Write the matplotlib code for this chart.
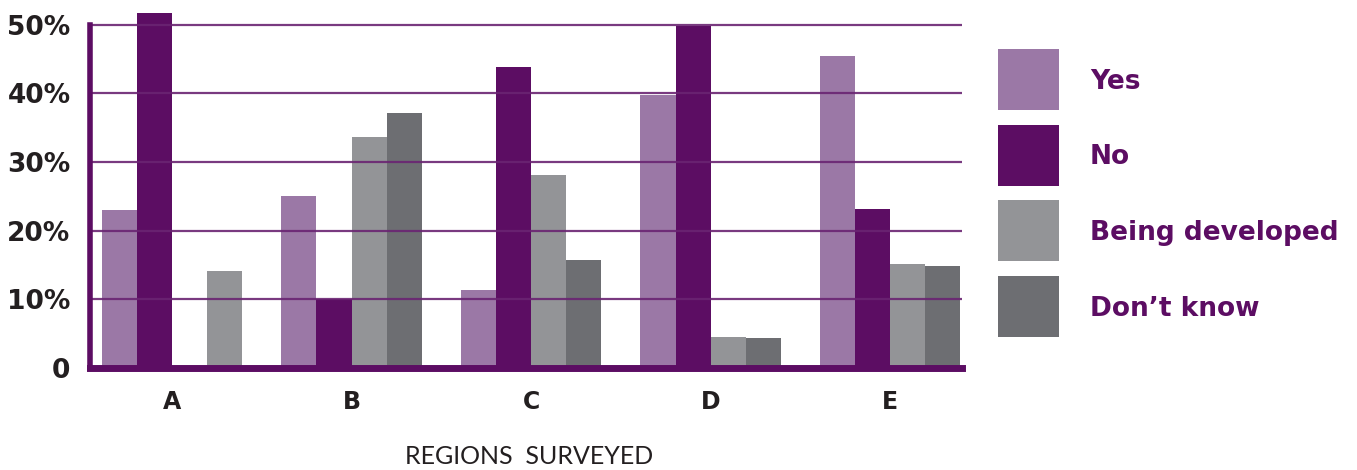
import matplotlib
matplotlib.use("Agg")
import matplotlib.pyplot as plt
import numpy as np

regions = ["A", "B", "C", "D", "E"]
series = ["Yes", "No", "Being developed", "Don\u2019t know"]
yes = [23.0, 25.0, 11.3, 39.7, 45.5]
no = [51.7, 10.1, 43.8, 49.8, 23.1]
being_developed = [14.1, 33.7, 28.1, 4.5, 15.1]
dont_know = [0.0, 37.2, 15.7, 4.3, 14.9]
yticks = [0, 10, 20, 30, 40, 50]
ytick_labels = ["0", "10%", "20%", "30%", "40%", "50%"]

colors = ["#9b78a6", "#5c0d63", "#939497", "#6d6e72"]
purple = "#5c0d63"
textc = "#231f20"

fig = plt.figure(figsize=(13.57, 4.70), dpi=100)
ax = fig.add_axes([90/1357, 1-368/470, (962-90)/1357, (368-11)/470])

w = 0.1955
x = np.arange(len(regions))
data = [yes, no, being_developed, dont_know]
for j, (vals, c) in enumerate(zip(data, colors)):
    for i, v in enumerate(vals):
        slot = j
        # in region A the "Being developed" bar sits in the last slot
        if i == 0 and j == 2:
            slot = 3
        if v > 0:
            ax.bar(x[i] + (slot - 1.5) * w, v, width=w, color=c, linewidth=0, zorder=2)

for t in yticks[1:]:
    ax.axhline(t, color="#6a2472", lw=1.6, zorder=3, alpha=0.9)

ax.set_xlim(-0.457, 4.40)
ax.set_ylim(0, 52)
for s in ["top", "right"]:
    ax.spines[s].set_visible(False)
ax.spines["left"].set_color(purple)
ax.spines["left"].set_linewidth(4)
ax.spines["left"].set_bounds(0, 50)
ax.spines["bottom"].set_color(purple)
ax.spines["bottom"].set_linewidth(5)
ax.spines["left"].set_zorder(4)
ax.spines["bottom"].set_zorder(4)

ax.set_yticks(yticks)
ax.set_yticklabels(ytick_labels, fontsize=19, fontweight="heavy", color=textc)
ax.tick_params(axis="y", length=0, pad=14)
ax.set_xticks(x)
ax.set_xticklabels(regions, fontsize=17, fontweight="heavy", color=textc)
ax.tick_params(axis="x", length=0, pad=16)

fig.text(529/1357, 1-457/470, "REGIONS  SURVEYED", fontsize=18, color=textc,
         fontfamily="Lato", fontweight="normal", ha="center", va="center")

# legend
for k, (name, c) in enumerate(zip(series, colors)):
    top = 49 + k * 75.5
    fig.patches.append(plt.Rectangle((998/1357, 1-(top+61)/470), 61/1357, 61/470,
                                     transform=fig.transFigure, color=c, lw=0))
    fig.text(1090/1357, 1-(top+33)/470, name, fontsize=19, fontweight="bold",
             color=purple, va="center", ha="left")

fig.savefig("out.png", dpi=100)
